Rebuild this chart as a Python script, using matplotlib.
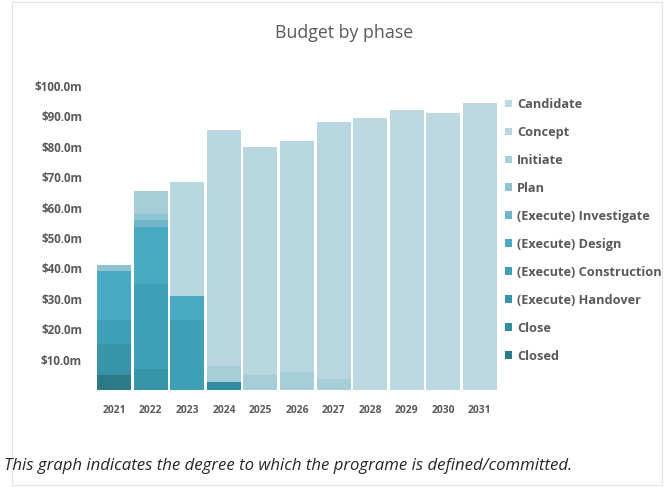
import matplotlib
matplotlib.use("Agg")
import matplotlib.pyplot as plt
import numpy as np
from matplotlib.patches import Rectangle

years = ["2021", "2022", "2023", "2024", "2025", "2026", "2027", "2028", "2029", "2030", "2031"]

# stacked bottom -> top
phases = ["Closed", "Close", "(Execute) Handover", "(Execute) Construction", "(Execute) Design",
          "(Execute) Investigate", "Plan", "Initiate", "Concept", "Candidate"]

closed       = [5.0, 0.0, 0.0, 0.0, 0.0, 0.0, 0.0, 0.0, 0.0, 0.0, 0.0]
close        = [0.0, 0.0, 0.0, 2.7, 0.0, 0.0, 0.0, 0.0, 0.0, 0.0, 0.0]
handover     = [10.0, 7.0, 0.0, 0.0, 0.0, 0.0, 0.0, 0.0, 0.0, 0.0, 0.0]
construction = [8.0, 28.0, 23.0, 0.0, 0.0, 0.0, 0.0, 0.0, 0.0, 0.0, 0.0]
design       = [16.0, 18.5, 8.0, 0.0, 0.0, 0.0, 0.0, 0.0, 0.0, 0.0, 0.0]
investigate  = [0.0, 2.5, 0.0, 0.0, 0.0, 0.0, 0.0, 0.0, 0.0, 0.0, 0.0]
plan         = [2.0, 2.0, 0.0, 0.0, 0.0, 0.0, 0.0, 0.0, 0.0, 0.0, 0.0]
initiate     = [0.0, 7.5, 0.0, 5.3, 5.0, 6.0, 3.6, 0.0, 0.0, 0.0, 0.0]
concept      = [0.0, 0.0, 37.5, 77.5, 75.0, 76.0, 84.4, 0.0, 0.0, 0.0, 0.0]
candidate    = [0.0, 0.0, 0.0, 0.0, 0.0, 0.0, 0.0, 89.5, 92.0, 91.0, 94.5]

series = [closed, close, handover, construction, design, investigate, plan, initiate, concept, candidate]
colors = ["#2b7a88", "#318d9d", "#3894a9", "#3f9fb6", "#4aa9c2", "#6db5c8",
          "#8fc3d1", "#a6cdd8", "#b7d6df", "#bcd9e2"]

yticks = [10, 20, 30, 40, 50, 60, 70, 80, 90, 100]
ytick_labels = ["$10.0m", "$20.0m", "$30.0m", "$40.0m", "$50.0m", "$60.0m",
                "$70.0m", "$80.0m", "$90.0m", "$100.0m"]

W, H = 665, 487
fig = plt.figure(figsize=(W / 100, H / 100), dpi=100)
fig.patch.set_facecolor("white")
plt.rcParams['font.family'] = ['Open Sans', 'DejaVu Sans']

ax = fig.add_axes([96 / W, 1 - 390 / H, (498 - 96) / W, (390 - 86) / H])
x = np.arange(len(years))
bottom = np.zeros(len(years))
handles = []
for vals, col, name in zip(series, colors, phases):
    v = np.array(vals)
    b = ax.bar(x, v, bottom=bottom, width=0.93, color=col, edgecolor="none", label=name)
    handles.append(b)
    bottom += v

ax.set_xlim(-0.5, len(years) - 0.5)
ax.set_ylim(0, 100)
ax.set_yticks(yticks)
ax.set_yticklabels(ytick_labels)
ax.set_xticks(x)
ax.set_xticklabels(years)
for s in ax.spines.values():
    s.set_visible(False)
ax.tick_params(axis="both", length=0, colors="#595959")
ax.tick_params(axis="y", pad=10, labelsize=8.4)
ax.tick_params(axis="x", pad=11, labelsize=7.4)
for lab in ax.get_xticklabels() + ax.get_yticklabels():
    lab.set_fontweight("bold")

leg = fig.legend(handles[::-1], phases[::-1], loc="upper left",
                 bbox_to_anchor=(505 / W, 1 - 98 / H), frameon=False,
                 fontsize=9.2, labelspacing=1.17, handlelength=0.55, handleheight=0.55,
                 handletextpad=0.4, borderpad=0, borderaxespad=0)
for t in leg.get_texts():
    t.set_color("#595959")
    t.set_fontweight("bold")

fig.text(344 / W, 1 - 33 / H, "Budget by phase", ha="center", va="center",
         fontsize=12.8, color="#595959")
fig.text(4 / W, 1 - 466 / H,
         "This graph indicates the degree to which the programe is defined/committed.",
         ha="left", va="center", fontsize=12.1, style="italic", color="#262626")

fig.patches.append(Rectangle((12 / W, 1 - 485 / H), (662 - 12) / W, (485 - 2) / H,
                             transform=fig.transFigure, fill=False,
                             edgecolor="#e3e3e3", linewidth=0.8))

fig.savefig("out.png", dpi=100, facecolor="white")
